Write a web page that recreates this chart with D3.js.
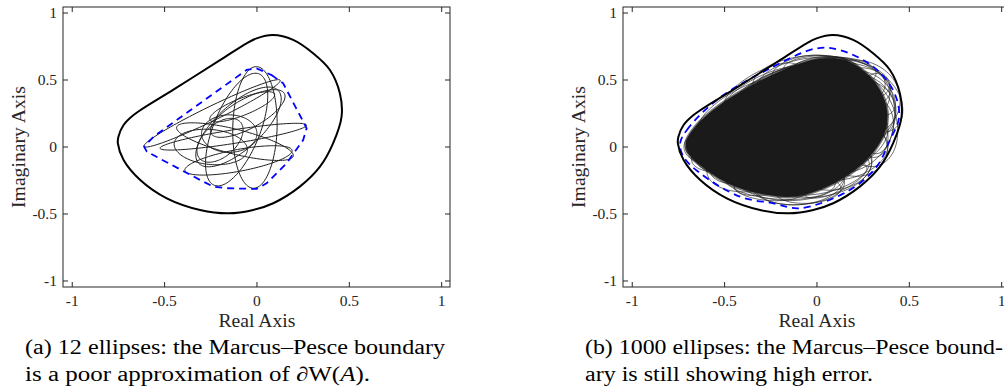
<!DOCTYPE html>
<html>
<head>
<meta charset="utf-8">
<script src="https://cdn.jsdelivr.net/npm/d3@7"></script>
<style>
  body { margin: 0; background: #fff; }
  svg { display: block; }
  text { font-family: 'Liberation Serif', serif; fill: #262626; }
</style>
</head>
<body>
<script>
const ticks = [-1, -0.5, 0, 0.5, 1]
const tickLabels = ['-1', '-0.5', '0', '0.5', '1']

// boundary of the numerical range W(A) (same matrix in both panels)
const rangeBoundary = [
  [0.086, 0.836], [0.196, 0.8], [0.304, 0.7], [0.395, 0.575], [0.449, 0.4],
  [0.458, 0.226], [0.412, 0.027], [0.341, -0.147], [0.232, -0.296], [0.088, -0.42],
  [-0.02, -0.47], [-0.155, -0.495], [-0.308, -0.47], [-0.488, -0.383], [-0.632, -0.246],
  [-0.722, -0.097], [-0.753, 0.027], [-0.75, 0.077], [-0.722, 0.164], [-0.668, 0.239],
  [-0.45, 0.43], [-0.2, 0.648], [-0.056, 0.774], [-0.002, 0.811]
]

// Marcus-Pesce boundary, 12 ellipses
const hullA = [
  [0.079, 0.537], [0.142, 0.475], [0.269, 0.14], [0.25, 0.052], [0.16, -0.122],
  [0.052, -0.271], [-0.002, -0.313], [-0.164, -0.308], [-0.236, -0.296], [-0.308, -0.246],
  [-0.596, -0.035], [-0.611, 0.002], [-0.56, 0.077], [-0.056, 0.575], [-0.002, 0.587]
]

// Marcus-Pesce boundary, 1000 ellipses
const hullB = [
  [-0.741, 0.027], [-0.704, 0.127], [-0.542, 0.351], [-0.236, 0.6], [-0.002, 0.736],
  [0.124, 0.724], [0.304, 0.6], [0.412, 0.425], [0.445, 0.226], [0.395, 0.052],
  [0.323, -0.147], [0.178, -0.321], [-0.092, -0.457], [-0.236, -0.42], [-0.416, -0.371],
  [-0.632, -0.196], [-0.723, -0.072]
]

// ellipses: [centre re, centre im, semi-axis a, semi-axis b, angle (deg)]
const ellipsesA = [
  [-0.243, 0.251, 0.444, 0.05, 34],
  [-0.128, 0.077, 0.406, 0.05, 12.4],
  [-0.119, 0.04, 0.334, 0.09, -19.6],
  [-0.011, 0.146, 0.454, 0.12, 89],
  [-0.11, 0.13, 0.434, 0.13, 75],
  [-0.1, 0.15, 0.35, 0.14, 55],
  [-0.05, 0.25, 0.25, 0.1, 40],
  [-0.2, 0.05, 0.18, 0.1, 60],
  [-0.25, 0.0, 0.2, 0.13, -10],
  [-0.1, -0.1, 0.3, 0.08, 15],
  [-0.15, 0.1, 0.15, 0.14, 0],
  [-0.08, 0.3, 0.2, 0.06, 30]
]

// a sample of the 1000 ellipses, the ones whose outer arcs make the blob's edge
const ellipsesB = [
  [-0.35, 0.1, 0.38, 0.15, 20], [-0.3, 0.05, 0.4, 0.2, 10], [-0.38, 0.18, 0.36, 0.14, 35],
  [-0.25, 0.35, 0.35, 0.18, 38], [0.02, 0.45, 0.35, 0.22, 5], [0.1, 0.42, 0.3, 0.25, -20],
  [-0.1, 0.38, 0.4, 0.22, 25], [0.2, 0.35, 0.25, 0.3, 0], [0.25, 0.2, 0.18, 0.35, 10],
  [0.2, 0.1, 0.2, 0.3, -20], [0.15, -0.05, 0.25, 0.18, 30], [0.0, -0.15, 0.3, 0.22, 15],
  [-0.15, -0.2, 0.3, 0.2, 0], [-0.1, -0.25, 0.25, 0.18, 10], [-0.35, -0.15, 0.25, 0.18, 15],
  [-0.43, -0.03, 0.26, 0.14, 20], [-0.5, 0.05, 0.22, 0.12, 25], [-0.4, 0.3, 0.3, 0.12, 40],
  [-0.2, 0.4, 0.3, 0.15, 35], [0.05, 0.2, 0.4, 0.3, 30], [0.3, 0.35, 0.15, 0.25, 20],
  [-0.05, 0.05, 0.45, 0.3, 20], [-0.2, 0.1, 0.5, 0.28, 25], [0.1, 0.55, 0.22, 0.12, 0],
  [-0.05, 0.55, 0.2, 0.13, 15], [0.28, 0.12, 0.1, 0.2, 10], [-0.25, -0.3, 0.2, 0.1, -5],
  [0.1, -0.25, 0.2, 0.08, 35], [-0.52, -0.05, 0.14, 0.09, 25], [-0.3, 0.45, 0.25, 0.1, 40],
  [0.15, 0.5, 0.25, 0.15, -15], [0.32, 0.25, 0.1, 0.3, 0], [-0.6, 0.0, 0.12, 0.12, 0],
  [-0.05, -0.32, 0.18, 0.1, 5], [-0.45, 0.2, 0.28, 0.1, 40],
  [-0.1, -0.28, 0.25, 0.15, 5], [-0.2, -0.25, 0.3, 0.14, -5], [0.05, -0.2, 0.25, 0.13, 25],
  [-0.38, -0.15, 0.2, 0.12, 15], [0.2, 0.0, 0.18, 0.22, 10], [0.25, 0.3, 0.17, 0.25, 15],
  [0.15, 0.45, 0.25, 0.18, -10], [-0.05, 0.5, 0.3, 0.18, 10], [0.08, -0.12, 0.22, 0.2, 20],
  [0.3, 0.4, 0.1, 0.18, 30], [-0.3, -0.28, 0.15, 0.08, 10], [0.0, 0.6, 0.18, 0.08, 5]
]

// solid core of the 1000-ellipse blob
const blobB = [
  [-0.71, 0.03], [-0.66, 0.15], [-0.53, 0.31], [-0.3, 0.5], [-0.1, 0.62],
  [0.03, 0.66], [0.15, 0.65], [0.26, 0.56], [0.34, 0.43], [0.38, 0.27],
  [0.37, 0.12], [0.31, -0.03], [0.2, -0.18], [0.05, -0.3], [-0.12, -0.37],
  [-0.3, -0.35], [-0.47, -0.28], [-0.62, -0.15], [-0.69, -0.06]
]

const width = 1004
const height = 388

const svg = d3.select('body')
  .append('svg')
  .attr('width', width)
  .attr('height', height)

const ellipsePoints = (e) => {
  const [cx, cy, a, b, ang] = e
  const th = ang * Math.PI / 180
  return d3.range(0, 120).map(i => {
    const t = i / 120 * 2 * Math.PI
    return [
      cx + a * Math.cos(t) * Math.cos(th) - b * Math.sin(t) * Math.sin(th),
      cy + a * Math.cos(t) * Math.sin(th) + b * Math.sin(t) * Math.cos(th)
    ]
  })
}

const drawPanel = (left, opts) => {
  const top = 7
  const w = 387
  const h = 280
  const x = d3.scaleLinear().domain([-1.05, 1.045]).range([left, left + w])
  const y = d3.scaleLinear().domain([-1.045, 1.045]).range([top + h, top])

  const g = svg.append('g')

  const smooth = d3.line().x(d => x(d[0])).y(d => y(d[1])).curve(d3.curveCatmullRomClosed)
  const straight = d3.line().x(d => x(d[0])).y(d => y(d[1])).curve(d3.curveLinearClosed)

  g.append('g')
    .selectAll('path')
    .data(opts.ellipses)
    .enter()
    .append('path')
    .attr('d', d => straight(ellipsePoints(d)))
    .attr('fill', 'none')
    .attr('stroke', opts.ellipseColor)
    .attr('stroke-width', opts.ellipseWidth)

  if (opts.blob) {
    g.append('path')
      .attr('d', smooth(opts.blob))
      .attr('fill', '#1a1a1a')
      .attr('stroke', '#1a1a1a')
      .attr('stroke-width', 3)
      .attr('stroke-opacity', 0.6)
  }

  g.append('path')
    .attr('d', (opts.hullSmooth ? smooth : straight)(opts.hull))
    .attr('fill', 'none')
    .attr('stroke', '#0000ff')
    .attr('stroke-width', 1.8)
    .attr('stroke-dasharray', '7,5')

  g.append('path')
    .attr('d', smooth(rangeBoundary))
    .attr('fill', 'none')
    .attr('stroke', '#000')
    .attr('stroke-width', 2)

  // box and inward ticks on all four sides
  g.append('rect')
    .attr('x', left).attr('y', top)
    .attr('width', w).attr('height', h)
    .attr('fill', 'none')
    .attr('stroke', '#262626')
    .attr('stroke-width', 1)

  const tk = 5
  ticks.forEach(v => {
    g.append('line').attr('x1', x(v)).attr('x2', x(v)).attr('y1', top + h).attr('y2', top + h - tk)
    g.append('line').attr('x1', x(v)).attr('x2', x(v)).attr('y1', top).attr('y2', top + tk)
    g.append('line').attr('y1', y(v)).attr('y2', y(v)).attr('x1', left).attr('x2', left + tk)
    g.append('line').attr('y1', y(v)).attr('y2', y(v)).attr('x1', left + w).attr('x2', left + w - tk)
  })
  g.selectAll('line').attr('stroke', '#262626').attr('stroke-width', 1)

  g.append('g')
    .selectAll('text')
    .data(ticks)
    .enter()
    .append('text')
    .attr('x', d => x(d))
    .attr('y', 306)
    .attr('text-anchor', 'middle')
    .style('font-size', '15.5px')
    .text((d, i) => tickLabels[i])

  g.append('g')
    .selectAll('text')
    .data(ticks)
    .enter()
    .append('text')
    .attr('x', left - 6)
    .attr('y', d => y(d))
    .attr('dy', '0.34em')
    .attr('text-anchor', 'end')
    .style('font-size', '15.5px')
    .text((d, i) => tickLabels[i])

  g.append('text')
    .attr('x', x(0))
    .attr('y', 327)
    .attr('text-anchor', 'middle')
    .attr('textLength', 77)
    .attr('lengthAdjust', 'spacingAndGlyphs')
    .style('font-size', '19px')
    .text('Real Axis')

  g.append('text')
    .attr('transform', `translate(${left - 38},${y(0)}) rotate(-90)`)
    .attr('text-anchor', 'middle')
    .attr('textLength', 122)
    .attr('lengthAdjust', 'spacingAndGlyphs')
    .style('font-size', '19px')
    .text('Imaginary Axis')

  // caption
  opts.caption.forEach((line, i) => {
    const t = g.append('text')
      .attr('x', left - 38)
      .attr('y', 354 + i * 27)
      .attr('textLength', opts.captionLengths[i])
      .attr('lengthAdjust', 'spacingAndGlyphs')
      .style('font-size', '20px')
      .style('fill', '#000')
    line.forEach(part => {
      t.append('tspan')
        .style('font-style', part[1] ? 'italic' : 'normal')
        .text(part[0])
    })
  })
}

drawPanel(63, {
  ellipses: ellipsesA,
  ellipseColor: '#1f1f1f',
  ellipseWidth: 1,
  hull: hullA,
  hullSmooth: false,
  caption: [
    [['(a) 12 ellipses: the Marcus\u2013Pesce boundary', false]],
    [['is a poor approximation of \u2202W(', false], ['A', true], [').', false]]
  ],
  captionLengths: [420, 345]
})

drawPanel(623, {
  ellipses: ellipsesB,
  ellipseColor: 'rgba(25,25,25,0.8)',
  ellipseWidth: 0.8,
  blob: blobB,
  hull: hullB,
  hullSmooth: true,
  caption: [
    [['(b) 1000 ellipses: the Marcus\u2013Pesce bound-', false]],
    [['ary is still showing high error.', false]]
  ],
  captionLengths: [418, 288]
})
</script>
</body>
</html>
